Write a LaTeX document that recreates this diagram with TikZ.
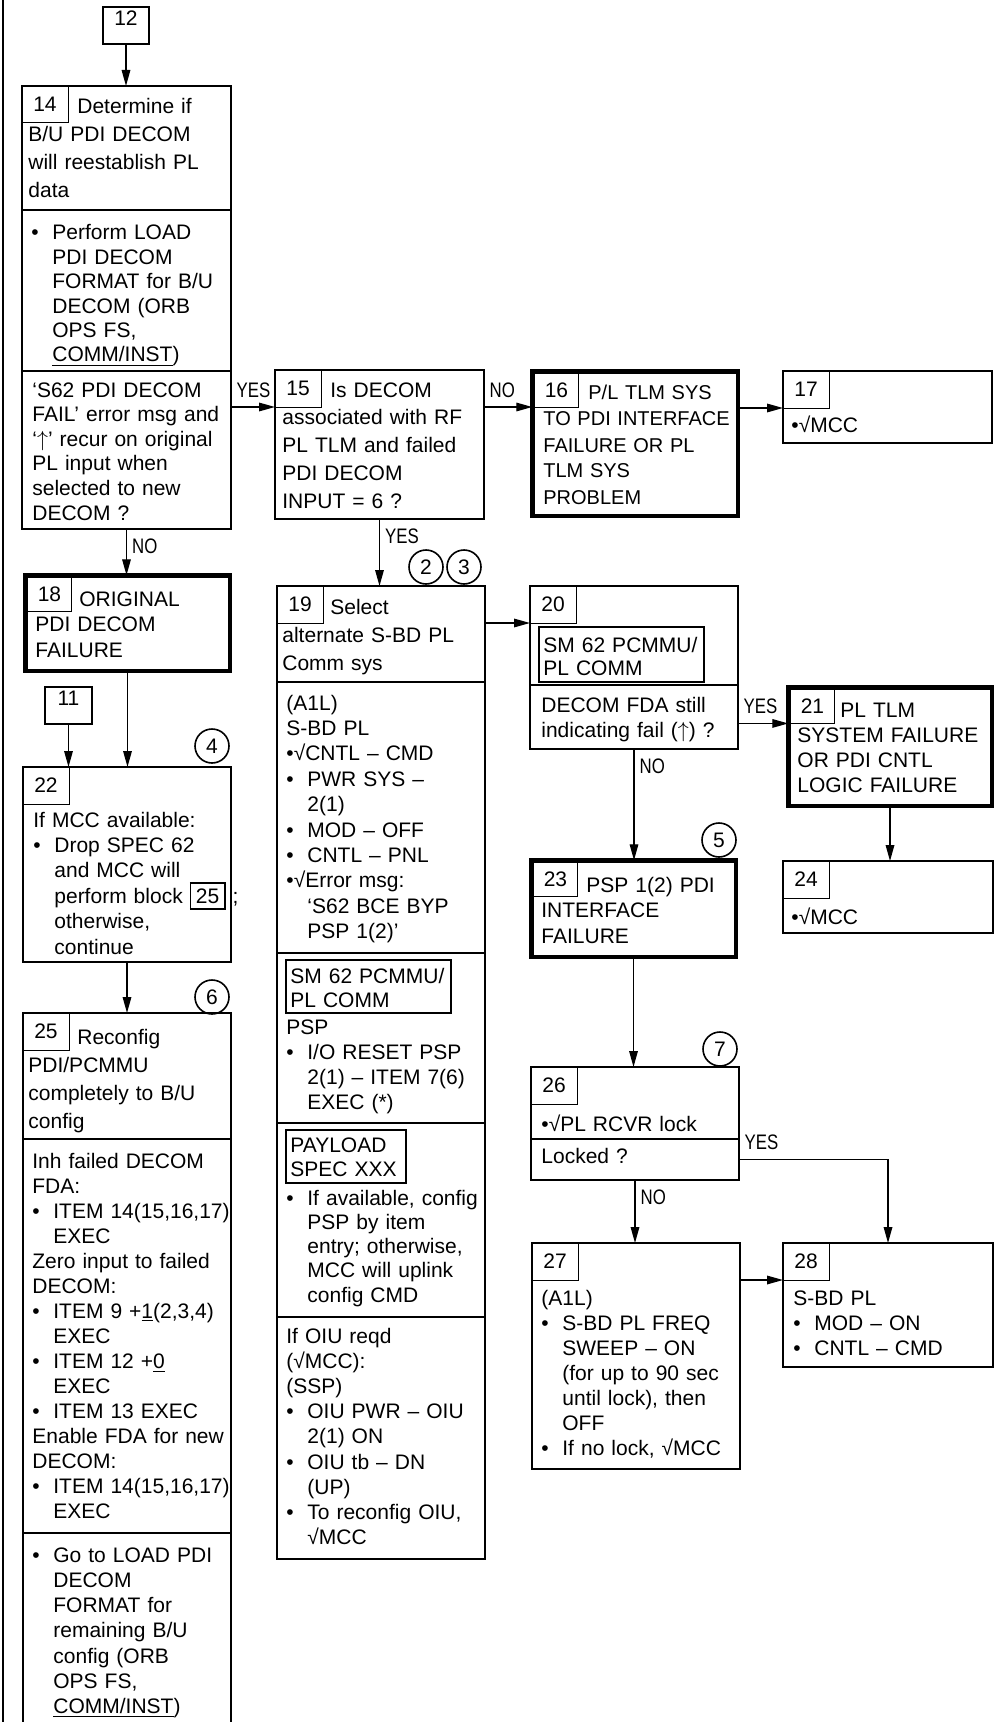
\documentclass[tikz,border=0pt]{standalone}
\usepackage{fontspec}
\setmainfont{Liberation Sans}
\usepackage{graphicx}
\usetikzlibrary{
arrows.meta,
fit
}
\newcommand{\bul}{\makebox[10.5pt][l]{•}}
\newcommand{\ind}{\hspace*{10.5pt}}
\newcommand{\yn}[1]{\scalebox{0.8}[1]{#1}}
\newcommand{\uparr}{$\uparrow$}
\newcommand{\blkref}[1]{{\fboxsep=2.5pt\fboxrule=0.6pt\smash{\fbox{#1}}}}

\tikzset{
  blk/.style={draw, line width=1pt, inner sep=0pt, outer sep=0pt},
  failblk/.style={draw, line width=2.25pt, inner sep=0pt, outer sep=0pt},
  numbox/.style={draw, line width=0.5pt, anchor=north west, inner sep=0pt, outer sep=0pt,
    minimum width=23pt, minimum height=18.5pt},
  failnum/.style={numbox, minimum width=22pt, minimum height=17pt, xshift=1.1pt, yshift=-1.1pt},
  refbox/.style={draw, line width=0.75pt, inner sep=0pt, outer sep=0pt},
  body/.style={anchor=base west, inner sep=0pt, text width=118pt, align=left,
    font=\fontsize{10.5}{#1}\selectfont},
  body/.default=12.6,
  stepno/.style={circle, draw, line width=0.8pt, minimum size=17pt, inner sep=0pt},
  flow/.style={line width=0.65pt, -{Triangle[length=8pt,width=4.3pt]}},
  yn/.style={inner xsep=2.5pt, inner ysep=4.5pt, font=\fontsize{10.5}{12}\selectfont}
}

\begin{document}
\begin{tikzpicture}[x=0.5pt, y=-0.5pt, font=\fontsize{10.5}{12.6}\selectfont]
    \useasboundingbox (0,0) rectangle (995,1722);
    \clip (0,0) rectangle (995,1722);
    \draw[line width=1pt] (3,0) -- (3,1722);

    % left column
    \node[blk, fit={(103,7) (149,44)}] (B12) {12};
    \node[blk, fit={(22,86) (231,210)}] (S14a) {};
    \node[blk, fit={(22,210) (231,371)}] (S14b) {};
    \node[blk, fit={(22,371) (231,529)}] (S14c) {};
    \node[numbox] (N14) at (S14a.north west) {14};
    \node[body=14] (T14a) at (28,114) {\hspace*{24.5pt}Determine if\\B/U PDI DECOM\\will reestablish PL\\data};
    \node[body=12.2] (T14b) at (31,240) {\bul Perform LOAD\\\ind PDI DECOM\\\ind FORMAT for B/U\\\ind DECOM (ORB\\\ind OPS FS,\\\ind \underline{COMM/INST})};
    \node[body=12.3] (T14c) at (32,397) {‘S62 PDI DECOM\\FAIL’ error msg and\\‘\uparr’ recur on original\\PL input when\\selected to new\\DECOM ?};

    \node[failblk, fit={(25.25,575.25) (229.75,670.75)}] (B18) {};
    \node[failnum] (N18) at (B18.north west) {18};
    \node[body=12.75] (T18) at (35,606) {\hspace*{22pt}ORIGINAL\\PDI DECOM\\FAILURE};

    \node[blk, fit={(45,687) (92,724)}] (B11) {11};
    \node[blk, fit={(23,767) (231,962)}] (S22) {};
    \node[numbox] (N22) at (S22.north west) {22};
    \node[body=12.7] (T22) at (33,827) {If MCC available:\\\bul Drop SPEC 62\\\ind and MCC will\\\ind perform block \blkref{25} ;\\\ind otherwise,\\\ind continue};
    \node[stepno] (C4) at (212,746) {4};

    \node[blk, fit={(23,1013) (231,1139)}] (S25a) {};
    \node[blk, fit={(23,1139) (231,1533)}] (S25b) {};
    \node[blk, fit={(23,1533) (231,1760)}] (S25c) {};
    \node[numbox] (N25) at (S25a.north west) {25};
    \node[stepno] (C6) at (212,997) {6};
    \node[body=14] (T25a) at (28,1044) {\hspace*{24.5pt}Reconfig\\PDI/PCMMU\\completely to B/U\\config};
    \node[body=12.5] (T25b) at (32,1168) {Inh failed DECOM\\FDA:\\\bul ITEM 14(15,16,17)\\\ind EXEC\\Zero input to failed\\DECOM:\\\bul ITEM 9 +\underline{1}(2,3,4)\\\ind EXEC\\\bul ITEM 12 +\underline{0}\\\ind EXEC\\\bul ITEM 13 EXEC\\Enable FDA for new\\DECOM:\\\bul ITEM 14(15,16,17)\\\ind EXEC};
    \node[body=12.65] (T25c) at (32,1562) {\bul Go to LOAD PDI\\\ind DECOM\\\ind FORMAT for\\\ind remaining B/U\\\ind config (ORB\\\ind OPS FS,\\\ind \underline{COMM/INST})};

    % middle column
    \node[blk, fit={(275,370) (484,519)}] (S15) {};
    \node[numbox] (N15) at (S15.north west) {15};
    \node[body=13.9] (T15) at (282,397) {\hspace*{24pt}Is DECOM\\associated with RF\\PL TLM and failed\\PDI DECOM\\INPUT = 6 ?};

    \node[stepno] (C2) at (426,567) {2};
    \node[stepno] (C3) at (464,567) {3};
    \node[blk, fit={(277,586) (485,682)}] (S19a) {};
    \node[blk, fit={(277,682) (485,953)}] (S19b) {};
    \node[blk, fit={(277,953) (485,1123)}] (S19c) {};
    \node[blk, fit={(277,1123) (485,1317)}] (S19d) {};
    \node[blk, fit={(277,1317) (485,1559)}] (S19e) {};
    \node[numbox] (N19) at (S19a.north west) {19};
    \node[body=14] (T19a) at (282,614) {\hspace*{24pt}Select\\alternate S-BD PL\\Comm sys};
    \node[body=12.7] (T19b) at (286,710) {(A1L)\\S-BD PL\\•√CNTL – CMD\\\bul PWR SYS –\\\ind 2(1)\\\bul MOD – OFF\\\bul CNTL – PNL\\•√Error msg:\\\ind ‘S62 BCE BYP\\\ind PSP 1(2)’};
    \node[refbox, fit={(286,960) (451,1013)}] (R19a) {};
    \node[body=12] (T19c) at (290,983) {SM 62 PCMMU/\\PL COMM};
    \node[body=12.5] (T19d) at (286,1034) {PSP\\\bul I/O RESET PSP\\\ind 2(1) – ITEM 7(6)\\\ind EXEC (*)};
    \node[refbox, fit={(286,1130) (406,1183)}] (R19b) {};
    \node[body=12] (T19e) at (290,1152) {PAYLOAD\\SPEC XXX};
    \node[body=12.15] (T19f) at (286,1205) {\bul If available, config\\\ind PSP by item\\\ind entry; otherwise,\\\ind MCC will uplink\\\ind config CMD};
    \node[body=12.6] (T19g) at (286,1343) {If OIU reqd\\(√MCC):\\(SSP)\\\bul OIU PWR – OIU\\\ind 2(1) ON\\\bul OIU tb – DN\\\ind (UP)\\\bul To reconfig OIU,\\\ind √MCC};

    % right columns
    \node[failblk, fit={(532.25,371.25) (737.75,515.75)}] (B16) {};
    \node[failnum] (N16) at (B16.north west) {16};
    \node[body=13, font=\fontsize{10}{13}\selectfont] (T16) at (543,400) {\hspace*{22.5pt}P/L TLM SYS\\TO PDI INTERFACE\\FAILURE OR PL\\TLM SYS\\PROBLEM};

    \node[blk, fit={(783,371) (992,443)}] (B17) {};
    \node[numbox] (N17) at (B17.north west) {17};
    \node[body] (T17) at (791,432) {•√MCC};

    \node[blk, fit={(530,586) (738,685)}] (S20a) {};
    \node[blk, fit={(530,685) (738,749)}] (S20b) {};
    \node[numbox] (N20) at (S20a.north west) {20};
    \node[refbox, fit={(539,627) (704,682)}] (R20) {};
    \node[body=11.5] (T20a) at (543,652) {SM 62 PCMMU/\\PL COMM};
    \node[body=12.5] (T20b) at (541,712) {DECOM FDA still\\indicating fail (\uparr) ?};

    \node[failblk, fit={(788.25,687.25) (991.75,805.75)}] (B21) {};
    \node[failnum] (N21) at (B21.north west) {21};
    \node[body=12.65] (T21) at (797,717) {\hspace*{21.5pt}PL TLM\\SYSTEM FAILURE\\OR PDI CNTL\\LOGIC FAILURE};

    \node[stepno] (C5) at (719,840) {5};
    \node[failblk, fit={(531.25,860.25) (735.75,956.75)}] (B23) {};
    \node[failnum] (N23) at (B23.north west) {23};
    \node[body=12.75] (T23) at (541,892) {\hspace*{22.5pt}PSP 1(2) PDI\\INTERFACE\\FAILURE};

    \node[blk, fit={(783,861) (993,933)}] (B24) {};
    \node[numbox] (N24) at (B24.north west) {24};
    \node[body] (T24) at (791,924) {•√MCC};

    \node[stepno] (C7) at (720,1049) {7};
    \node[blk, fit={(531,1067) (739,1139)}] (S26a) {};
    \node[blk, fit={(531,1139) (739,1180)}] (S26b) {};
    \node[numbox] (N26) at (S26a.north west) {26};
    \node[body] (T26a) at (541,1131) {•√PL RCVR lock};
    \node[body] (T26b) at (541,1163) {Locked ?};

    \node[blk, fit={(532,1243) (740,1469)}] (B27) {};
    \node[numbox] (N27) at (B27.north west) {27};
    \node[body=12.5] (T27) at (541,1305) {(A1L)\\\bul S-BD PL FREQ\\\ind SWEEP – ON\\\ind (for up to 90 sec\\\ind until lock), then\\\ind OFF\\\bul If no lock, √MCC};

    \node[blk, fit={(783,1243) (993,1367)}] (B28) {};
    \node[numbox] (N28) at (B28.north west) {28};
    \node[body=12.5] (T28) at (793,1305) {S-BD PL\\\bul MOD – ON\\\bul CNTL – CMD};

    % connectors
    \draw[flow] (B12.south) -- (B12.south |- S14a.north);
    \draw[flow] (S14c.east |- N15.south) -- node[yn, pos=0, anchor=south west] (L1) {\yn{YES}} (N15.south west);
    \draw[flow] (S15.east |- N15.south) -- node[yn, pos=0, anchor=south west] (L2) {\yn{NO}} (B16.west |- N15.south);
    \draw[flow] (B16.east |- N17.south) -- (N17.south west);
    \draw[flow] (S14c.south) -- node[yn, pos=0, anchor=north west] (L3) {\yn{NO}} (S14c.south |- B18.north);
    \draw[flow] (S15.south) -- node[yn, pos=0, anchor=north west] (L4) {\yn{YES}} (S15.south |- S19a.north);
    \draw[flow] (B18.south) -- (B18.south |- S22.north);
    \draw[flow] (B11.south) -- (B11.south |- S22.north);
    \draw[flow] (S22.south) -- (S22.south |- S25a.north);
    \draw[flow] (S19a.east |- N20.south) -- (N20.south west);
    \draw[flow] (S20b.east |- N21.south) -- node[yn, pos=0, anchor=south west] (L5) {\yn{YES}} (B21.west |- N21.south);
    \draw[flow] (S20b.south) -- node[yn, pos=0, anchor=north west] (L6) {\yn{NO}} (S20b.south |- B23.north);
    \draw[flow] (B21.south) -- (B21.south |- B24.north);
    \draw[flow] (B23.south) -- (B23.south |- S26a.north);
    \draw[flow] (S26b.east) -| node[yn, pos=0, anchor=south west] (L7) {\yn{YES}} (B28.north);
    \draw[flow] (S26b.south) -- node[yn, pos=0, anchor=north west] (L8) {\yn{NO}} (S26b.south |- B27.north);
    \draw[flow] (B27.east |- N28.south) -- (N28.south west);
\end{tikzpicture}
\end{document}
